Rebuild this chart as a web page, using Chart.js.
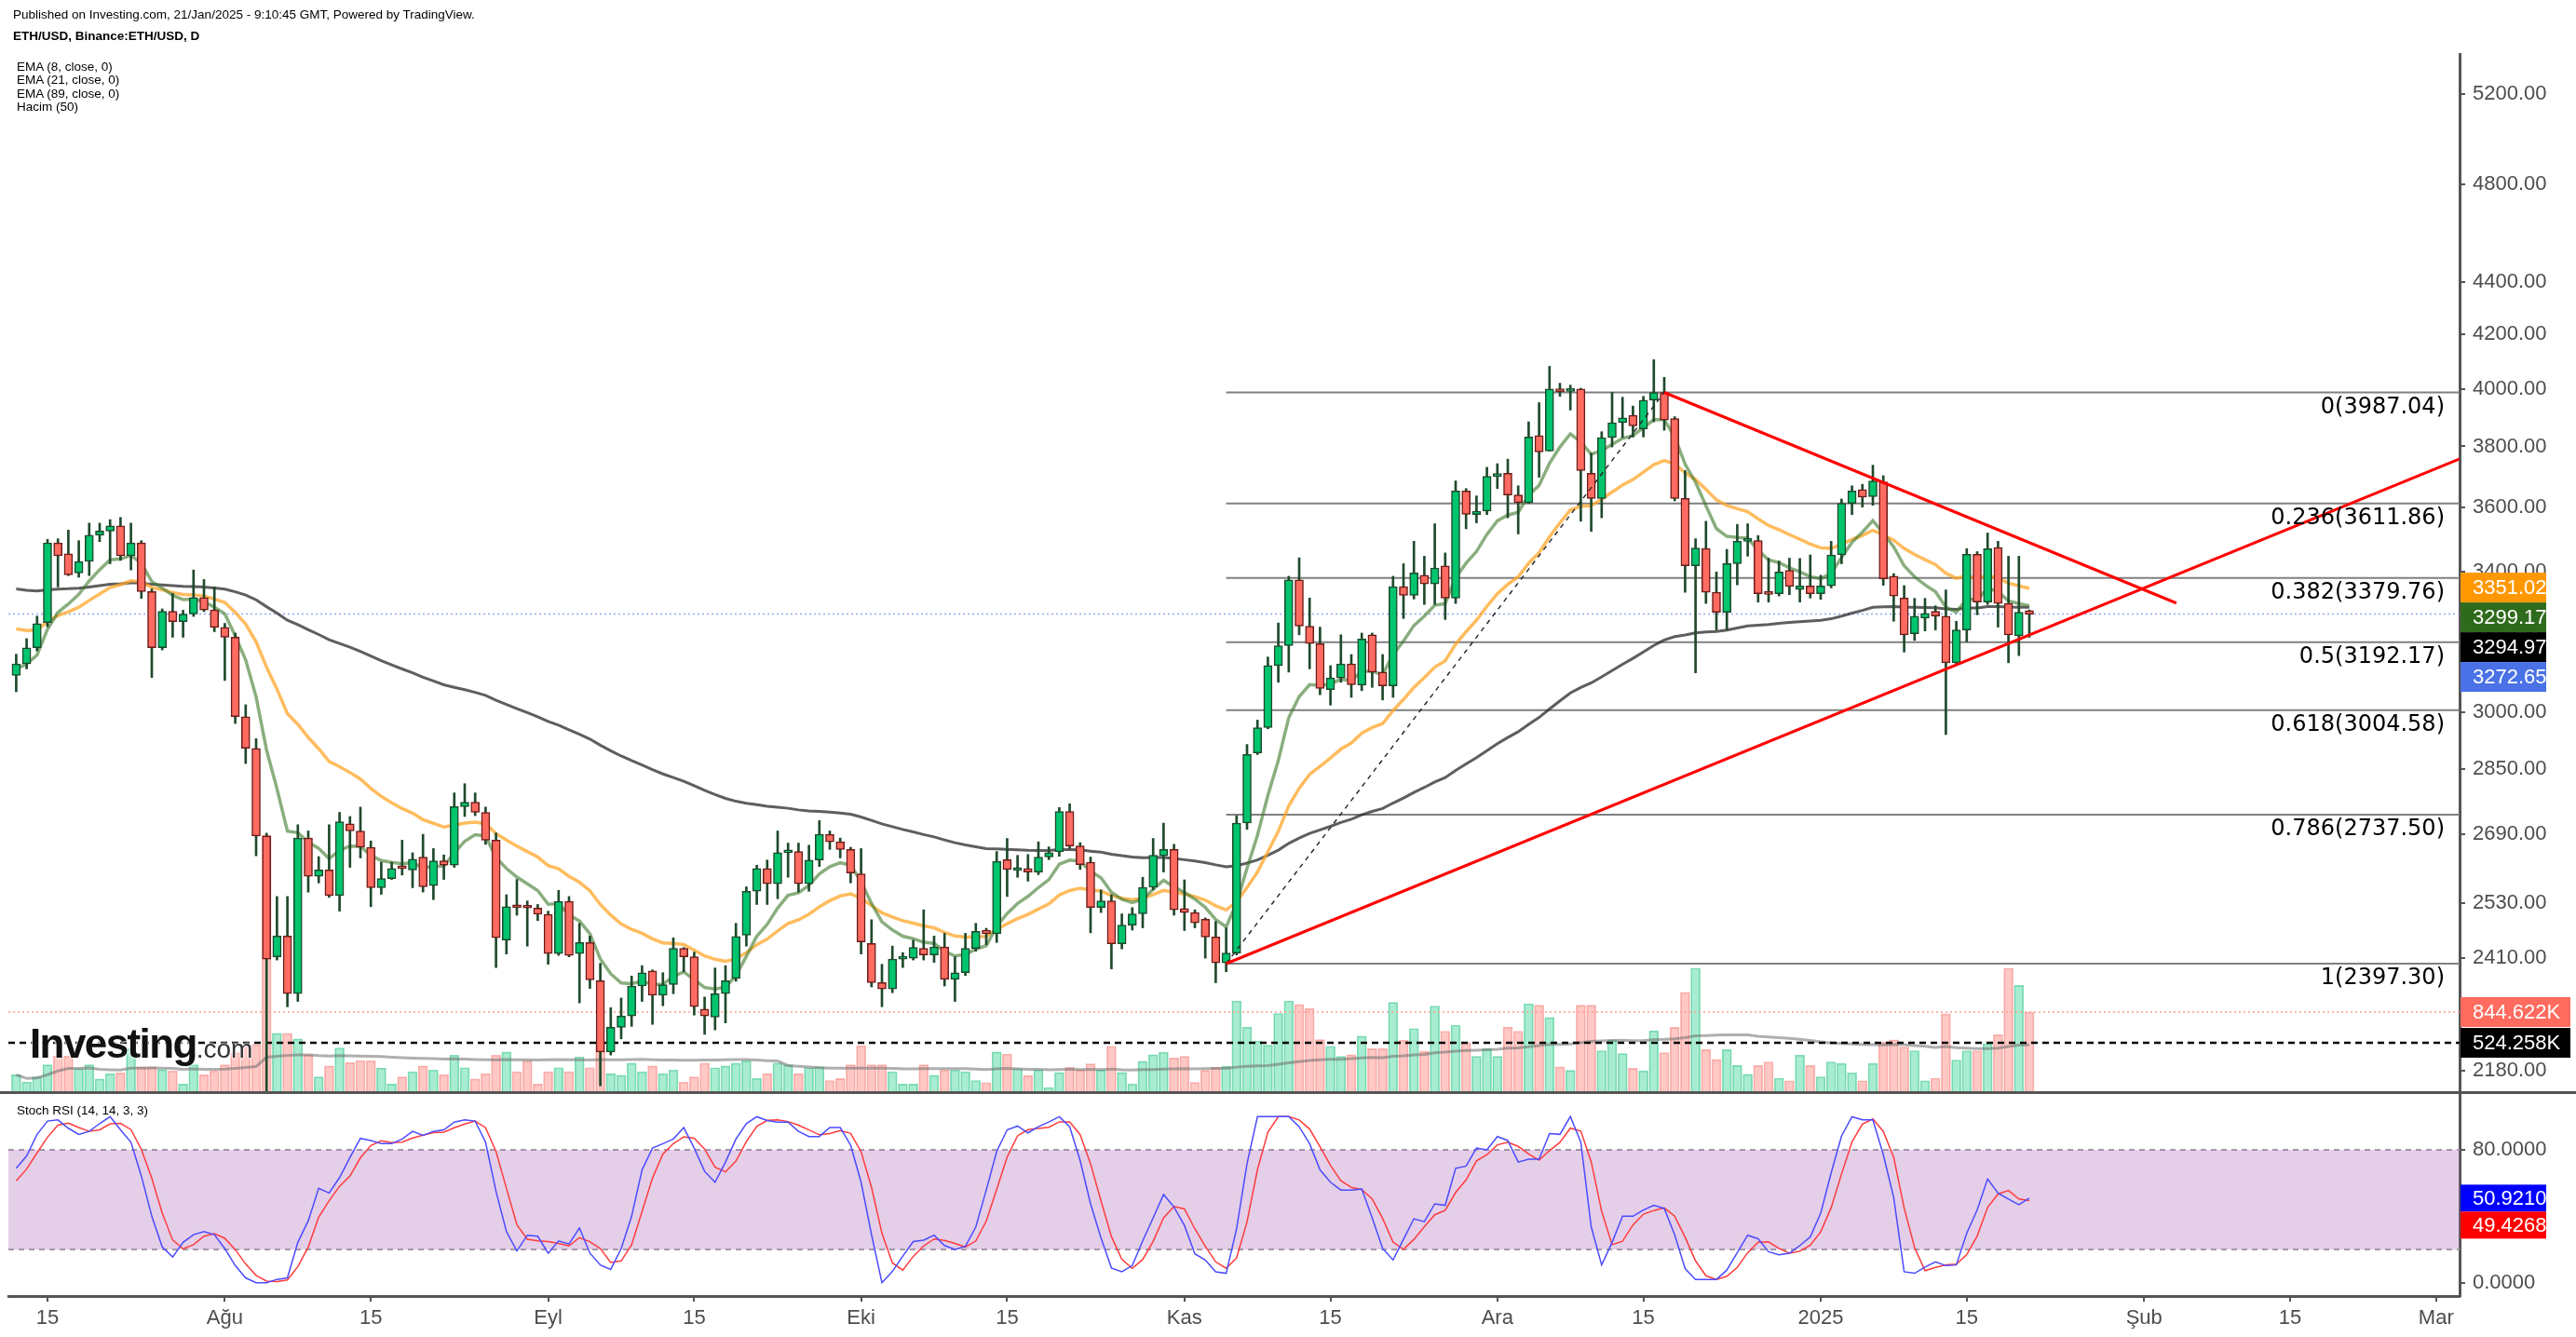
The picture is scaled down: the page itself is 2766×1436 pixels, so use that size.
<!DOCTYPE html>
<html><head><meta charset="utf-8">
<script src="https://cdn.jsdelivr.net/npm/chart.js@4.4.1/dist/chart.umd.min.js"></script>
<style>
html,body{margin:0;padding:0;background:#fff;}
body{width:2766px;height:1436px;position:relative;overflow:hidden;font-family:"Liberation Sans",Arial,sans-serif;}
canvas{position:absolute;left:0;}
#c1{top:0;}
#c2{top:1175px;}
.t{position:absolute;left:14px;font-size:13.5px;color:#000;white-space:nowrap;line-height:14px;}
#sep{position:absolute;left:0;top:1172px;width:2766px;height:3px;background:#555;}
#logo{position:absolute;left:32px;top:1096px;white-space:nowrap;color:#111;
 text-shadow:0 0 3px #fff,0 0 3px #fff,0 0 2px #fff;}
#logo b{font:bold 44px "Liberation Sans",Arial,sans-serif;letter-spacing:-1.6px;}
#logo span{font:28px "Liberation Sans",Arial,sans-serif;color:#333;}
</style></head><body>
<canvas id="c1" width="2766" height="1175"></canvas>
<canvas id="c2" width="2766" height="261"></canvas>
<div id="sep"></div>
<div class="t" style="top:9px">Published on Investing.com, 21/Jan/2025 - 9:10:45 GMT, Powered by TradingView.</div>
<div class="t" style="top:32px;font-weight:bold">ETH/USD, Binance:ETH/USD, D</div>
<div class="t" style="top:65px;left:18px">EMA (8, close, 0)</div>
<div class="t" style="top:79px;left:18px">EMA (21, close, 0)</div>
<div class="t" style="top:94px;left:18px">EMA (89, close, 0)</div>
<div class="t" style="top:108px;left:18px">Hacim (50)</div>
<div id="logo"><b>Investing</b><span>.com</span></div>
<div class="t" style="top:1186px;left:18px">Stoch RSI (14, 14, 3, 3)</div>
<script>
// ---------- data (daily candles from 12 Jul 2024 to 21 Jan 2025, index 0..193) ----------
const tickIdx  = [3,20,34,51,65,81,95,112,126,142,156,173,187,204,218,232];
const tickText = ['15','Ağu','15','Eyl','15','Eki','15','Kas','15','Ara','15','2025','15','Şub','15','Mar'];
const priceTicks = [2180,2410,2530,2690,2850,3000,3200,3400,3600,3800,4000,4200,4400,4800,5200];
const stochTicks = [0,80];

const open = [
3099,3131,3176,3248,3487,3453,3395,3430,3511,3524,
3540,3447,3487,3339,3176,3281,3251,3273,3321,3285,
3234,3206,2987,2904,2686,2412,2457,2334,2681,2591,
2606,2547,2715,2698,2659,2565,2586,2612,2606,2636,
2570,2627,2617,2757,2768,2743,2676,2448,2522,2525,
2519,2505,2419,2534,2419,2443,2361,2216,2265,2288,
2350,2382,2331,2353,2430,2412,2302,2286,2334,2366,
2459,2557,2609,2574,2646,2649,2574,2629,2690,2672,
2654,2597,2441,2357,2344,2407,2409,2430,2416,2433,
2364,2378,2430,2470,2462,2630,2605,2609,2601,2636,
2648,2745,2662,2624,2520,2535,2440,2481,2506,2566,
2639,2654,2518,2509,2494,2455,2399,2420,2717,2892,
2958,3126,3182,3374,3238,3188,3060,3092,3131,3072,
3213,3108,3070,3354,3328,3388,3362,3416,3320,3652,
3576,3587,3700,3710,3639,3614,3837,3784,4000,3991,
3999,3710,3628,3830,3881,3907,3860,3960,3987,3895,
3628,3417,3470,3337,3278,3423,3492,3494,3333,3333,
3403,3345,3356,3333,3356,3450,3612,3657,3634,3682,
3385,3320,3216,3261,3281,3267,3134,3227,3452,3308,
3473,3304,3210,3283];
const high = [
3158,3202,3267,3498,3500,3527,3494,3549,3549,3560,
3567,3549,3494,3347,3288,3334,3284,3404,3375,3353,
3246,3218,3019,2929,2693,2545,2545,2713,2698,2637,
2713,2743,2733,2756,2674,2624,2624,2676,2646,2690,
2656,2641,2791,2814,2791,2756,2693,2549,2584,2535,
2527,2512,2559,2545,2485,2457,2398,2305,2325,2371,
2393,2384,2378,2453,2432,2422,2327,2388,2393,2485,
2567,2617,2629,2698,2669,2669,2664,2723,2698,2681,
2659,2656,2493,2396,2435,2421,2448,2515,2457,2463,
2412,2463,2485,2474,2649,2680,2640,2642,2672,2660,
2755,2764,2670,2636,2560,2549,2506,2520,2589,2680,
2717,2666,2583,2515,2497,2489,2475,2735,2914,2978,
3150,3247,3385,3441,3320,3235,3126,3213,3157,3218,
3218,3157,3385,3423,3492,3446,3547,3456,3685,3660,
3636,3730,3742,3757,3669,3884,3951,4081,4020,4013,
4002,3777,3850,3987,3970,3939,3973,4105,4041,3902,
3719,3500,3555,3398,3467,3545,3547,3510,3440,3431,
3440,3439,3450,3388,3492,3626,3669,3674,3737,3702,
3393,3357,3319,3319,3297,3344,3252,3469,3460,3518,
3492,3446,3446,3285];
const low = [
3054,3117,3167,3236,3353,3387,3382,3387,3491,3423,
3433,3404,3319,3093,3170,3206,3206,3266,3280,3222,
3085,2969,2865,2639,2111,2405,2307,2318,2555,2576,
2543,2512,2612,2634,2522,2550,2584,2594,2565,2555,
2538,2584,2612,2733,2735,2666,2389,2418,2503,2435,
2491,2396,2415,2412,2315,2345,2150,2210,2242,2267,
2318,2271,2309,2334,2380,2290,2251,2260,2274,2360,
2435,2527,2527,2540,2589,2555,2557,2614,2654,2634,
2576,2418,2348,2307,2336,2389,2405,2405,2400,2350,
2318,2372,2424,2438,2443,2545,2589,2580,2595,2630,
2638,2656,2607,2464,2509,2386,2429,2470,2475,2560,
2601,2503,2469,2475,2409,2357,2380,2416,2702,2888,
2955,3080,3108,3213,3117,3046,3018,3080,3039,3057,
3066,3032,3039,3260,3317,3301,3301,3257,3304,3531,
3550,3576,3660,3566,3515,3612,3697,3784,3973,3925,
3555,3523,3566,3798,3830,3832,3832,3884,3855,3620,
3337,3106,3304,3227,3227,3359,3446,3308,3308,3326,
3330,3308,3320,3316,3350,3423,3576,3600,3606,3358,
3252,3164,3197,3224,3227,2940,3130,3193,3271,3301,
3235,3134,3154,3206];
const close = [
3131,3176,3245,3487,3447,3389,3430,3511,3524,3540,
3447,3487,3339,3176,3281,3251,3273,3321,3285,3234,
3206,2987,2904,2686,2407,2457,2334,2681,2591,2606,
2547,2720,2698,2659,2565,2586,2609,2609,2631,2567,
2627,2617,2757,2768,2743,2676,2453,2522,2520,2519,
2505,2419,2534,2415,2443,2363,2216,2265,2288,2350,
2378,2331,2353,2430,2412,2307,2288,2334,2361,2456,
2557,2609,2574,2646,2648,2574,2629,2690,2672,2654,
2599,2444,2357,2344,2407,2409,2432,2416,2433,2364,
2378,2430,2467,2462,2626,2607,2608,2601,2636,2646,
2745,2662,2618,2520,2535,2440,2481,2506,2566,2640,
2654,2515,2509,2486,2455,2399,2420,2717,2888,2958,
3126,3182,3374,3238,3188,3063,3092,3131,3073,3201,
3108,3070,3354,3328,3395,3362,3410,3320,3652,3577,
3587,3700,3704,3639,3614,3832,3781,3999,3990,3998,
3719,3628,3830,3881,3898,3870,3960,3987,3890,3628,
3417,3471,3337,3278,3423,3492,3494,3333,3331,3398,
3354,3356,3333,3356,3450,3612,3652,3632,3685,3377,
3326,3213,3267,3275,3267,3134,3227,3452,3308,3469,
3304,3213,3278,3272.65];
// volume in thousands
const volume = [
190,114,168,295,387,387,253,295,147,202,
210,463,274,274,244,231,93,295,190,231,
295,421,484,505,2690,623,623,564,400,168,
282,471,316,337,337,261,93,168,223,282,
240,190,396,265,147,202,396,429,223,337,
93,223,265,223,379,265,505,202,185,312,
223,282,202,240,114,168,312,265,282,312,
337,152,202,312,295,202,265,274,131,152,
295,493,295,295,223,93,93,295,185,240,
240,223,131,109,429,408,255,184,242,58,
215,268,242,305,242,488,215,95,331,399,
425,368,383,110,236,268,278,961,688,541,
499,830,961,924,882,557,488,383,399,593,
462,462,945,551,672,436,908,646,709,525,
383,462,383,688,646,932,917,788,273,237,
917,917,442,556,412,258,232,649,422,685,
1050,1303,453,350,453,288,196,288,325,155,
129,397,288,170,325,309,211,129,309,531,
556,479,442,129,155,824,345,442,442,515,
608,1303,1123,844.622];
// Stoch RSI %K
const stochK = [
68.9,76.3,89.3,97.3,98,93,89.3,91.1,95.8,100,
92,84.6,64.2,40,21.5,15.5,24.3,28.9,30.8,28.9,
20.6,10.3,2.9,0,0,2,2.9,24.3,37.3,56.8,
54,63.3,75.4,86.9,85.6,83.7,83.7,86.5,91.1,88.7,
91.1,92,96.7,98,97.3,84.6,55,30.8,19.1,28.6,
28,17.8,25.2,23.3,33,17.8,10.7,8,20.6,40,
67.9,81,83.7,86.5,93.4,81,67,60.5,72.6,86.5,
95.8,99.9,97.6,96.7,96.7,91.1,88,88,93.4,93.4,
82.8,60.5,28.9,0,6.8,16,24.8,25.6,28.6,22.4,
20,21.9,33.6,55.8,79,92,94.3,90.2,93.9,96.7,
99.9,93.9,73.5,47.5,27,8.9,6.6,10.3,25.2,39.1,
53.1,45.6,34.5,17.4,13.7,6.6,5.7,32.6,71.6,100,
100,100,100,93.9,83.7,67.9,60.5,55.8,55.8,56.4,
39.1,20.6,13.7,26.1,38.5,36.7,47.5,46.6,68.9,70.2,
81,80,88,85.6,72.6,74.4,74.4,89.8,89.3,100,
84.6,33.6,10.7,24.3,40,40,43.8,46.6,44.7,28.9,
8.5,2,2,2,7.6,18.1,28.6,26.5,18.7,16.8,
17.8,22.4,27.5,41.9,66.1,88.4,99.9,98,98,77.2,
51.2,6.6,5.7,9.4,12.6,10.3,10.7,29.8,43.8,62.4,
54,50.3,47,50.921];
const stochKPrior = [55,60];          // two %K values just before the first bar (from the %D start)
const emaStart = [3117,3230,3347];    // EMA 8 / 21 / 89 at the first bar
const emaLen = [8,21,89];

const fibLevels = ['0','0.236','0.382','0.5','0.618','0.786','1'];
const fibValues = [3987.04,3611.86,3379.76,3192.17,3004.58,2737.50,2397.30];
const fibStart = 116;
const trendDown = [[158,3987.04],[207.1,3305]];
const trendUp   = [[116,2397.30],[234.25,3758]];
const fibDiag   = [[116,2397.30],[158,3987.04]];

const lastPrice = 3272.65;
const priceBoxes = [[3351.02,'#ff9800'],[3299.17,'#2f6b1c'],[3294.97,'#000000'],[3272.65,'#4a72e6']];
const volBoxes = [[844.622,'#ff6b5e'],[524.258,'#000000']];
const stochBoxes = [[50.9210,'#0000ff'],[49.4268,'#ff0000']];

// ---------- helpers ----------
const xMin = -0.75, xMax = 234.25;
const idx = close.map((_,i)=>i);
function ema(src,n,start){const a=2/(n+1);const o=[start];for(let i=1;i<src.length;i++)o.push(a*src[i]+(1-a)*o[i-1]);return o;}
function sma(src,n){return src.map((_,i)=>{const s=src.slice(Math.max(0,i-n+1),i+1);return s.reduce((a,b)=>a+b,0)/s.length;});}
const ema8 = ema(close,emaLen[0],emaStart[0]);
const ema21 = ema(close,emaLen[1],emaStart[1]);
const ema89 = ema(close,emaLen[2],emaStart[2]);
const volMA = sma(volume,50);
const kAll = stochKPrior.concat(stochK);
const stochD = stochK.map((_,i)=>(kAll[i]+kAll[i+1]+kAll[i+2])/3);
const up = i => close[i] >= open[i];
const pts = arr => arr.map((v,i)=>({x:i,y:v}));
const seg = arr => arr.map(p=>({x:p[0],y:p[1]}));
const hline = v => [{x:xMin,y:v},{x:xMax,y:v}];
const FONT = '"Liberation Sans", Arial, sans-serif';
const noPad = s => { s.paddingTop = 0; s.paddingBottom = 0; s.paddingLeft = 0; s.paddingRight = 0; };

const boxPlugin = {
  id:'boxes',
  afterDraw(chart,args,opts){
    const ctx = chart.ctx, R = chart.chartArea.right;
    ctx.save();
    ctx.font = '22px '+FONT; ctx.textBaseline='middle'; ctx.textAlign='left';
    (opts.groups||[]).forEach(g=>{
      let prev = -1e9;
      const items = g.items.map(it=>({v:it[0],c:it[1],y:chart.scales[g.scale].getPixelForValue(it[0])}))
        .sort((a,b)=>a.y-b.y);
      items.forEach(it=>{
        let y = Math.max(it.y, prev + g.h); prev = y;
        ctx.fillStyle = it.c;
        ctx.fillRect(R+1, y-g.h/2, g.w, g.h);
        ctx.fillStyle = '#fff';
        ctx.fillText(g.fmt(it.v), R+14, y+1);
      });
    });
    ctx.restore();
  }
};
const fibLabelPlugin = {
  id:'fibLabels',
  afterDatasetsDraw(chart){
    const ctx = chart.ctx, ys = chart.scales.y;
    ctx.save();
    ctx.font = '24px "DejaVu Sans", Verdana, sans-serif';
    ctx.fillStyle = '#000'; ctx.textAlign='right'; ctx.textBaseline='middle';
    fibValues.forEach((v,i)=>{
      ctx.fillText(fibLevels[i]+'('+v.toFixed(2)+')', 2625, ys.getPixelForValue(v)+16);
    });
    ctx.restore();
  }
};

// ---------- main price panel ----------
const GREEN='#00c46e', RED='#ff6b60', WICK='#1f4a2c';
const lineDs = (data,color,w,order,extra) => Object.assign({type:'line',data,borderColor:color,borderWidth:w,pointRadius:0,tension:0,fill:false,order,yAxisID:'y'},extra||{});
const mainDatasets = [
  {type:'bar',data:idx.map(i=>({x:i,y:volume[i]})),yAxisID:'yv',grouped:false,barThickness:10,
   backgroundColor:c=>up(c.dataIndex)?'rgba(0,200,120,0.34)':'rgba(255,110,100,0.38)',
   borderColor:c=>up(c.dataIndex)?'rgba(0,180,105,0.45)':'rgba(240,100,95,0.45)',borderWidth:1,borderSkipped:false,order:100},
  lineDs(pts(volMA),'rgba(110,110,110,0.55)',3,95,{yAxisID:'yv'}),
  lineDs(hline(volBoxes[0][0]),'#ff9c94',1.5,94,{yAxisID:'yv',borderDash:[2,3]}),
  lineDs(hline(volBoxes[1][0]),'#000',2.5,93,{yAxisID:'yv',borderDash:[7,5]}),
  lineDs(hline(lastPrice),'#93a8f0',1.5,92,{borderDash:[2,3]}),
  ...fibValues.map((v,i)=>lineDs([{x:fibStart,y:v},{x:xMax,y:v}],'#808080',2,85)),
  lineDs(pts(ema89),'rgba(40,40,40,0.75)',3,70),
  lineDs(pts(ema21),'rgba(255,165,40,0.75)',3.5,60),
  lineDs(pts(ema8),'rgba(60,120,40,0.6)',3.5,50),
  {type:'bar',data:idx.map(i=>({x:i,y:[low[i],high[i]]})),grouped:false,barThickness:2,backgroundColor:WICK,order:40,yAxisID:'y'},
  {type:'bar',data:idx.map(i=>({x:i,y:[open[i],close[i]]})),grouped:false,barThickness:9,minBarLength:3,
   backgroundColor:c=>up(c.dataIndex)?GREEN:RED,borderColor:c=>up(c.dataIndex)?'#1c4a2b':'#6b1c18',
   borderWidth:1.5,borderSkipped:false,order:30,yAxisID:'y'},
  lineDs(seg(fibDiag),'#222',1.4,25,{borderDash:[5,5]}),
  lineDs(seg(trendDown),'#ff0000',3,20),
  lineDs(seg(trendUp),'#ff0000',3,20)
];

new Chart(document.getElementById('c1'),{
  type:'bar',
  data:{datasets:mainDatasets},
  options:{
    responsive:false,animation:false,devicePixelRatio:1,
    layout:{autoPadding:false,padding:{left:9,top:58,right:0,bottom:1}},
    plugins:{legend:{display:false},tooltip:{enabled:false},
      boxes:{groups:[
        {scale:'y',items:priceBoxes,h:32,w:92,fmt:v=>v.toFixed(2)},
        {scale:'yv',items:volBoxes,h:32,w:118,fmt:v=>v.toFixed(3)+'K'}
      ]}},
    scales:{
      x:{type:'linear',min:xMin,max:xMax,display:false,offset:false,afterFit:noPad},
      y:{type:'logarithmic',position:'right',min:2136.3,max:5389.6,
        afterFit(s){s.width=125;noPad(s);},
        afterBuildTicks(s){s.ticks=priceTicks.map(v=>({value:v}));},
        ticks:{callback:v=>Number(v).toFixed(2),color:'#4d4d4d',font:{size:22,family:FONT},padding:8,autoSkip:false},
        grid:{drawOnChartArea:false,drawTicks:true,tickLength:6,color:'#555',lineWidth:2},
        border:{display:true,color:'#555',width:3}},
      yv:{type:'linear',display:false,min:0,max:10835,afterFit:noPad}
    }
  },
  plugins:[fibLabelPlugin,boxPlugin]
});

// ---------- Stoch RSI panel ----------
new Chart(document.getElementById('c2'),{
  type:'line',
  data:{datasets:[
    {data:hline(80),borderColor:'#a39aa6',borderWidth:2,borderDash:[6,5],pointRadius:0,fill:false,order:10},
    {data:hline(20),borderColor:'#a39aa6',borderWidth:2,borderDash:[6,5],pointRadius:0,fill:'-1',backgroundColor:'rgba(180,120,190,0.36)',order:9},
    {data:pts(stochD),borderColor:'#ff3c3c',borderWidth:1.5,pointRadius:0,tension:0,fill:false,order:2},
    {data:pts(stochK),borderColor:'#4b4bff',borderWidth:1.5,pointRadius:0,tension:0,fill:false,order:1}
  ]},
  options:{
    responsive:false,animation:false,devicePixelRatio:1,
    layout:{autoPadding:false,padding:{left:9,top:0,right:0,bottom:0}},
    plugins:{legend:{display:false},tooltip:{enabled:false},
      boxes:{groups:[{scale:'y',items:stochBoxes,h:29,w:92,fmt:v=>v.toFixed(4)}]}},
    scales:{
      x:{type:'linear',min:xMin,max:xMax,offset:false,
        afterFit(s){s.height=44;noPad(s);},
        afterBuildTicks(s){s.ticks=tickIdx.map(v=>({value:v}));},
        ticks:{callback:v=>tickText[tickIdx.indexOf(v)],autoSkip:false,maxRotation:0,color:'#4d4d4d',font:{size:22,family:FONT},padding:5},
        grid:{drawOnChartArea:false,drawTicks:true,tickLength:6,color:'#555',lineWidth:2},
        border:{display:true,color:'#555',width:3}},
      y:{type:'linear',position:'right',min:-8,max:113.6,
        afterFit(s){s.width=125;noPad(s);},
        afterBuildTicks(s){s.ticks=stochTicks.map(v=>({value:v}));},
        ticks:{callback:v=>Number(v).toFixed(4),color:'#4d4d4d',font:{size:22,family:FONT},padding:8,autoSkip:false},
        grid:{drawOnChartArea:false,drawTicks:true,tickLength:6,color:'#555',lineWidth:2},
        border:{display:true,color:'#555',width:3}}
    }
  },
  plugins:[boxPlugin]
});
</script>
</body></html>
